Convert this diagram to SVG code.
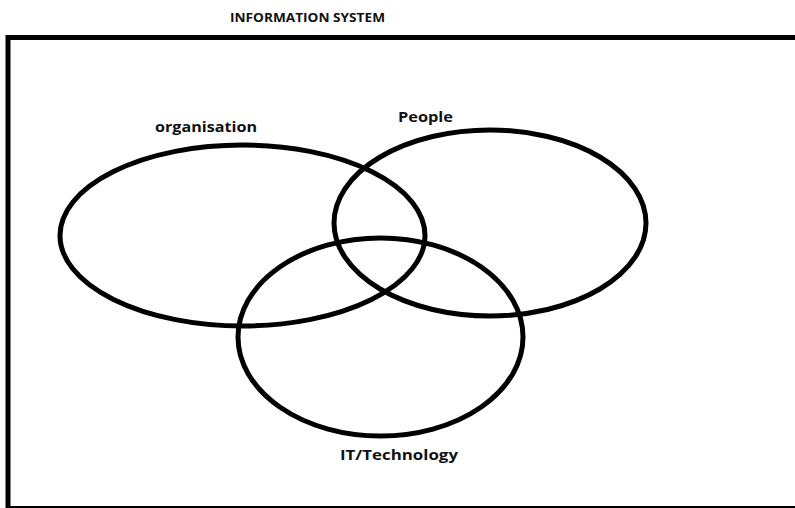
<svg xmlns="http://www.w3.org/2000/svg" width="795" height="508" viewBox="0 0 795 508">
<style>
.t{font-family:"Open Sans","Noto Sans","Liberation Sans",sans-serif;font-weight:bold;fill:#111;}
.e{fill:none;stroke:#000;stroke-width:5;}
</style>
<rect width="795" height="508" fill="#fff"/>
<g id="frame"><rect x="8" y="37.5" width="800" height="471" fill="none" stroke="#000" stroke-width="5"/></g>
<g id="title"><text class="t" x="230" y="22" font-size="13" textLength="155" lengthAdjust="spacingAndGlyphs">INFORMATION SYSTEM</text></g>
<g id="organisation">
<ellipse class="e" cx="242.5" cy="235.5" rx="182.5" ry="90.5"/>
<text class="t" x="155" y="132" font-size="14" textLength="102" lengthAdjust="spacingAndGlyphs">organisation</text>
</g>
<g id="people">
<ellipse class="e" cx="490" cy="223" rx="156" ry="93"/>
<text class="t" x="398" y="122" font-size="14" textLength="55" lengthAdjust="spacingAndGlyphs">People</text>
</g>
<g id="it">
<ellipse class="e" cx="380.5" cy="337" rx="142.5" ry="99"/>
<text class="t" x="340" y="460" font-size="14" textLength="118" lengthAdjust="spacingAndGlyphs">IT/Technology</text>
</g>
<g id="connectors"></g>
</svg>
